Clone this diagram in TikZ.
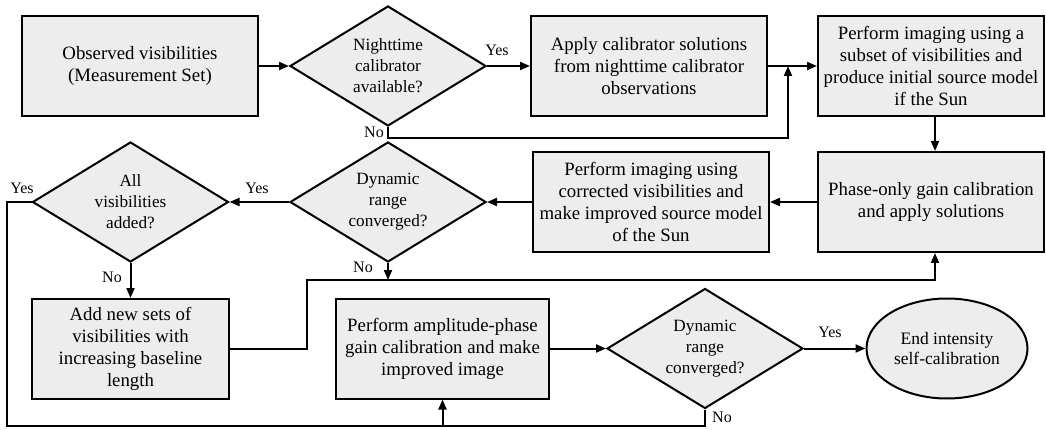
\documentclass[tikz,border=0pt]{standalone}
\usepackage{fontspec}
\setmainfont{Liberation Serif}
\usetikzlibrary{shapes.geometric,arrows.meta}
\definecolor{boxfill}{HTML}{EDEDED}
\begin{document}
\begin{tikzpicture}[x=1pt,y=-1pt,
  base/.style={draw=black, line width=2pt, fill=boxfill, align=center, inner sep=0pt},
  box/.style={base, rectangle, minimum width=#1, minimum height=100pt, font=\fontsize{18.8}{22}\selectfont},
  dec/.style={base, diamond, aspect=1.63, minimum width=196pt, minimum height=120pt, font=\fontsize{17.2}{21}\selectfont},
  term/.style={base, ellipse, minimum width=161pt, minimum height=100pt, font=\fontsize{17.5}{20.5}\selectfont},
  ln/.style={line width=2pt},
  arr/.style={line width=2pt, -{Triangle[length=10pt,width=8pt]}},
  lab/.style={font=\fontsize{16}{18}\selectfont, inner sep=0pt}]
\useasboundingbox (0,0) rectangle (1046,430);

\node[box=236pt] (b1) at (140,66) {Observed visibilities\\(Measurement Set)};
\node[dec] (d1) at (388,66) {Nighttime\\calibrator\\available?};
\node[box=236pt] (b2) at (649,66) {Apply calibrator solutions\\from nighttime calibrator\\observations};
\node[box=226pt] (b3) at (931,66) {Perform imaging using a\\subset of visibilities and\\produce initial source model\\if the Sun};
\node[box=226pt] (b4) at (931,202) {Phase-only gain calibration\\and apply solutions};
\node[box=236pt] (b5) at (651,202) {Perform imaging using\\corrected visibilities and\\make improved source model\\of the Sun};
\node[dec] (d2) at (388,202) {Dynamic\\range\\converged?};
\node[dec] (d3) at (130.5,202) {All\\visibilities\\added?};
\node[box=197pt] (b6) at (130.5,349) {Add new sets of\\visibilities with\\increasing baseline\\length};
\node[box=213pt] (b7) at (442.5,348.5) {Perform amplitude-phase\\gain calibration and make\\improved image};
\node[dec] (d4) at (705,348.5) {Dynamic\\range\\converged?};
\node[term] (e1) at (947,348.5) {End intensity\\self-calibration};

\coordinate (j1) at (788,138);
\coordinate (j1t) at (788,66);
\coordinate (j2) at (307,280);
\coordinate (j3) at (935,280);
\coordinate (c1) at (7,426);

\draw[arr] (b1.east) -- (d1.west);
\draw[arr] (d1.east) -- (b2.west);
\draw[arr] (b2.east) -- (b3.west);
\draw[arr] (d1.south) |- (j1) -- (j1t);
\draw[arr] (b3.south -| j3) -- (b4.north -| j3);
\draw[arr] (b4.west) -- (b5.east);
\draw[arr] (b5.west) -- (d2.east);
\draw[arr] (d2.west) -- (d3.east);
\draw[arr] (d3.south) -- (b6.north);
\draw[arr] (b6.east) -| (j2) -- (j3) -- (b4.south -| j3);
\draw[arr] (d2.south) -- (d2.south |- j2);
\draw[arr] (b7.east) -- (d4.west);
\draw[arr] (d4.east) -- (e1.west);
\draw[ln] (d3.west) -| (c1) -- (d4.south |- c1) -- (d4.south);
\draw[arr] (b7.south |- c1) -- (b7.south);

\node[lab] (y1) at (497,50) {Yes};
\node[lab] (n1) at (374,132) {No};
\node[lab] (y2) at (257,188) {Yes};
\node[lab] (y3) at (22,188) {Yes};
\node[lab] (n2) at (363,267) {No};
\node[lab] (n3) at (112,277) {No};
\node[lab] (y4) at (830,332) {Yes};
\node[lab] (n4) at (722,417) {No};
\end{tikzpicture}
\end{document}
